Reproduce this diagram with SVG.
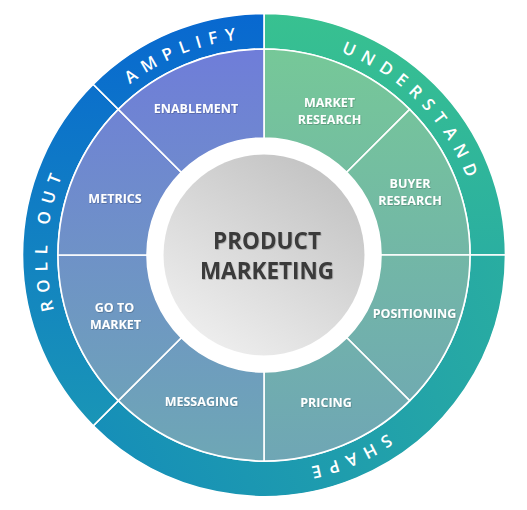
<svg xmlns="http://www.w3.org/2000/svg" xmlns:xlink="http://www.w3.org/1999/xlink" width="527" height="510" viewBox="0 0 527 510">
  <style>
    .seg { stroke: #ffffff; stroke-width: 1.6; }
    .lbl { font-family: "Open Sans", "Liberation Sans", sans-serif; font-weight: 700; font-size: 12.5px; fill: #ffffff; text-anchor: middle; }
    .ring-lbl { font-family: "Open Sans", "Liberation Sans", sans-serif; font-weight: 600; font-size: 17px; fill: #ffffff; letter-spacing: 7.6px; text-anchor: middle; }
    .center-lbl { font-family: "Open Sans", "Liberation Sans", sans-serif; font-weight: 700; font-size: 22.5px; fill: #3a3a3a; text-anchor: middle; }
  </style>
  <defs>
    <linearGradient id="gSegL" gradientUnits="userSpaceOnUse" x1="264" y1="49" x2="264" y2="461">
      <stop offset="0" stop-color="#6f7dd9"/>
      <stop offset="1" stop-color="#6ea7b5"/>
    </linearGradient>
    <linearGradient id="gSegR" gradientUnits="userSpaceOnUse" x1="264" y1="49" x2="264" y2="461">
      <stop offset="0" stop-color="#76c898"/>
      <stop offset="1" stop-color="#6fa6b5"/>
    </linearGradient>
    <linearGradient id="gRingL" gradientUnits="userSpaceOnUse" x1="264" y1="13" x2="264" y2="496">
      <stop offset="0" stop-color="#0868d0"/>
      <stop offset="1" stop-color="#1c9db2"/>
    </linearGradient>
    <linearGradient id="gRingR" gradientUnits="userSpaceOnUse" x1="264" y1="13" x2="264" y2="496">
      <stop offset="0" stop-color="#38c190"/>
      <stop offset="1" stop-color="#1d9db1"/>
    </linearGradient>
    <linearGradient id="gShape" gradientUnits="userSpaceOnUse" x1="500" y1="255" x2="100" y2="430">
      <stop offset="0" stop-color="#29ada1"/>
      <stop offset="1" stop-color="#168fb8"/>
    </linearGradient>
    <linearGradient id="gCenter" x1="0.8" y1="0.05" x2="0.2" y2="0.95">
      <stop offset="0" stop-color="#c3c3c3"/>
      <stop offset="1" stop-color="#eeeeee"/>
    </linearGradient>
    <path id="ringPath" d="M264,38 A217,217 0 0 1 264,472 A217,217 0 0 1 264,38"/>
    <filter id="shadow" x="-10%" y="-20%" width="120%" height="140%">
      <feDropShadow dx="0.6" dy="0.8" stdDeviation="0.6" flood-color="#000000" flood-opacity="0.25"/>
    </filter>
  </defs>

  <g id="ring-understand">
    <path class="seg" fill="url(#gRingR)" d="M264,13.5 A241.5,241.5 0 0 1 505.5,255 L470,255 A206,206 0 0 0 264,49 Z"/>
    <text class="ring-lbl"><textPath xlink:href="#ringPath" href="#ringPath" startOffset="174">UNDERSTAND</textPath></text>
  </g>
  <g id="ring-shape">
    <path class="seg" fill="url(#gShape)" d="M505.5,255 A241.5,241.5 0 0 1 93.23,425.77 L118.34,400.66 A206,206 0 0 0 470,255 Z"/>
    <text class="ring-lbl"><textPath xlink:href="#ringPath" href="#ringPath" startOffset="596">SHAPE</textPath></text>
  </g>
  <g id="ring-rollout">
    <path class="seg" fill="url(#gRingL)" d="M93.23,425.77 A241.5,241.5 0 0 1 93.23,84.23 L118.34,109.34 A206,206 0 0 0 118.34,400.66 Z"/>
    <text class="ring-lbl"><textPath xlink:href="#ringPath" href="#ringPath" startOffset="1038">ROLL OUT</textPath></text>
  </g>
  <g id="ring-amplify">
    <path class="seg" fill="url(#gRingL)" d="M93.23,84.23 A241.5,241.5 0 0 1 264,13.5 L264,49 A206,206 0 0 0 118.34,109.34 Z"/>
    <text class="ring-lbl"><textPath xlink:href="#ringPath" href="#ringPath" startOffset="1280">AMPLIFY</textPath></text>
  </g>

  <g id="seg-market-research">
    <path class="seg" fill="url(#gSegR)" d="M264,49 A206,206 0 0 1 409.66,109.34 L346.73,172.27 A117,117 0 0 0 264,138 Z"/>
    <text class="lbl" filter="url(#shadow)"><tspan x="329.5" y="107">MARKET</tspan><tspan x="329.5" y="124">RESEARCH</tspan></text>
  </g>
  <g id="seg-buyer-research">
    <path class="seg" fill="url(#gSegR)" d="M409.66,109.34 A206,206 0 0 1 470,255 L381,255 A117,117 0 0 0 346.73,172.27 Z"/>
    <text class="lbl" filter="url(#shadow)"><tspan x="410" y="188">BUYER</tspan><tspan x="410" y="205">RESEARCH</tspan></text>
  </g>
  <g id="seg-positioning">
    <path class="seg" fill="url(#gSegR)" d="M470,255 A206,206 0 0 1 409.66,400.66 L346.73,337.73 A117,117 0 0 0 381,255 Z"/>
    <text class="lbl" filter="url(#shadow)" x="414.5" y="318">POSITIONING</text>
  </g>
  <g id="seg-pricing">
    <path class="seg" fill="url(#gSegR)" d="M409.66,400.66 A206,206 0 0 1 264,461 L264,372 A117,117 0 0 0 346.73,337.73 Z"/>
    <text class="lbl" filter="url(#shadow)" x="326" y="406.5">PRICING</text>
  </g>
  <g id="seg-messaging">
    <path class="seg" fill="url(#gSegL)" d="M264,461 A206,206 0 0 1 118.34,400.66 L181.27,337.73 A117,117 0 0 0 264,372 Z"/>
    <text class="lbl" filter="url(#shadow)" x="201.5" y="406">MESSAGING</text>
  </g>
  <g id="seg-go-to-market">
    <path class="seg" fill="url(#gSegL)" d="M118.34,400.66 A206,206 0 0 1 58,255 L147,255 A117,117 0 0 0 181.27,337.73 Z"/>
    <text class="lbl" filter="url(#shadow)"><tspan x="114.5" y="312">GO TO</tspan><tspan x="115.5" y="329">MARKET</tspan></text>
  </g>
  <g id="seg-metrics">
    <path class="seg" fill="url(#gSegL)" d="M58,255 A206,206 0 0 1 118.34,109.34 L181.27,172.27 A117,117 0 0 0 147,255 Z"/>
    <text class="lbl" filter="url(#shadow)" x="115" y="203">METRICS</text>
  </g>
  <g id="seg-enablement">
    <path class="seg" fill="url(#gSegL)" d="M118.34,109.34 A206,206 0 0 1 264,49 L264,138 A117,117 0 0 0 181.27,172.27 Z"/>
    <text class="lbl" filter="url(#shadow)" x="196" y="113">ENABLEMENT</text>
  </g>

  <g id="center">
    <circle cx="264" cy="255" r="100.5" fill="url(#gCenter)"/>
    <text class="center-lbl" filter="url(#shadow)"><tspan x="267" y="249">PRODUCT</tspan><tspan x="267" y="279">MARKETING</tspan></text>
  </g>

  <g id="connectors"></g>
</svg>
